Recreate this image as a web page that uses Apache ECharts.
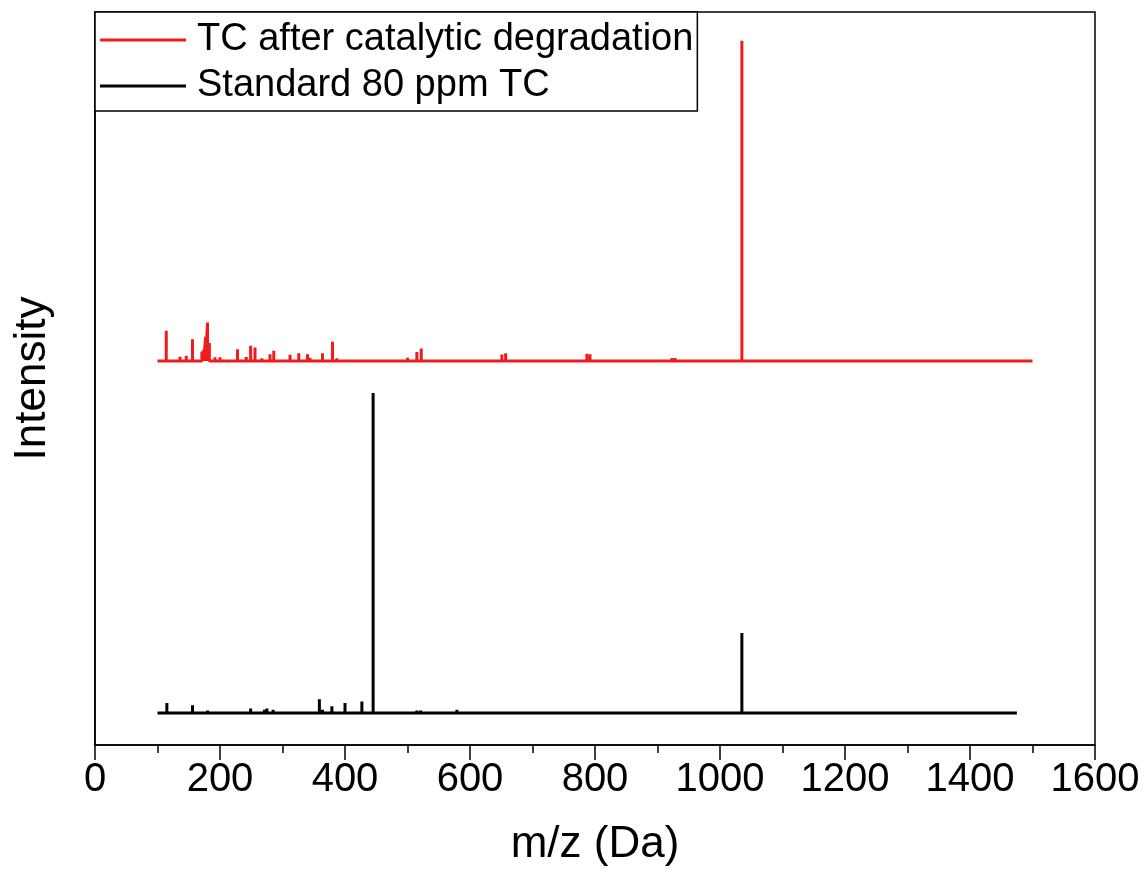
<!DOCTYPE html>
<html>
<head>
<meta charset="utf-8">
<script src="https://cdn.jsdelivr.net/npm/echarts@6/dist/echarts.min.js"></script>
<style>html,body{margin:0;padding:0;background:#fff}#c{width:1144px;height:870px}</style>
</head>
<body>
<div id="c"></div>
<script>
// Data (relative intensity, % of each spectrum's base peak)
const seriesNames = ['TC after catalytic degradation', 'Standard 80 ppm TC'];
const redRange = [100, 1500];
const redMz  = [114,136,146,156,171,174,177,180,183,192,200,228,242,249,256,267,280,286,296,312,326,340,344,364,380,387,500,515,522,651,657,787,792,923,928,957,1035,1059,1064,1197,1333];
const redInt = [9.4,1.3,1.6,6.8,2.9,3.4,7.5,12,5.6,1.1,1.1,3.6,1.2,4.7,4.2,0.8,2.1,3.2,0.5,1.9,2.4,2.1,1.0,2.4,6.0,0.8,1.0,2.8,3.9,2.0,2.4,2.2,2.1,0.9,0.9,0.4,100,0.6,0.6,0.4,0.3];
const blackRange = [100, 1475];
const blackMz  = [115,135,156,180,189,249,256,271,275,285,359,364,379,400,427,445,464,501,515,521,579,652,789,912,1035,1372];
const blackInt = [3.1,0.5,2.4,0.8,0.4,1.4,0.5,1.0,1.4,1.0,4.3,1.0,2.1,3.1,3.6,100,0.4,0.6,0.8,0.8,1.0,0.5,0.5,0.3,25,0.2];
const xTicks = [0,200,400,600,800,1000,1200,1400,1600];

// vertical stacking offsets (plot layout)
const RED_OFFSET = 120, BLACK_OFFSET = 10, Y_MAX = 229;

function stick(range, mz, inten, off) {
  const d = [[range[0], off]];
  for (let i = 0; i < mz.length; i++) {
    d.push([mz[i], off], [mz[i], off + inten[i]], [mz[i], off]);
  }
  d.push([range[1], off]);
  return d;
}

const chart = echarts.init(document.getElementById('c'), null, {renderer: 'canvas'});
const FONT = '"Liberation Sans", Arial, sans-serif';
chart.setOption({
  animation: false,
  backgroundColor: '#fff',
  grid: {left: 95, right: 49, top: 12, bottom: 125, show: true, borderColor: '#000', borderWidth: 1.5,
         containLabel: false, outerBoundsMode: 'none'},
  legend: {
    orient: 'vertical', left: 95, top: 12,
    icon: 'rect', itemWidth: 86, itemHeight: 3, itemGap: 8,
    padding: [9, 4, 6, 5],
    borderColor: '#000', borderWidth: 1.5, backgroundColor: '#fff',
    textStyle: {fontFamily: FONT, fontSize: 38, color: '#000', padding: [0, 0, 0, 6]},
    data: seriesNames
  },
  xAxis: {
    type: 'value', min: xTicks[0], max: xTicks[xTicks.length - 1], interval: 200,
    name: 'm/z (Da)', nameLocation: 'middle', nameGap: 78,
    nameTextStyle: {fontFamily: FONT, fontSize: 44, color: '#000'},
    axisLine: {show: true, lineStyle: {color: '#000', width: 1.5}},
    axisTick: {show: true, inside: false, length: 15, lineStyle: {color: '#000', width: 1.5}},
    minorTick: {show: true, splitNumber: 2, length: 8, lineStyle: {color: '#000', width: 1.5}},
    axisLabel: {fontFamily: FONT, fontSize: 40, color: '#000', margin: 15,
                formatter: v => String(v)},
    splitLine: {show: false}
  },
  yAxis: {
    type: 'value', min: 0, max: Y_MAX,
    name: 'Intensity', nameLocation: 'middle', nameGap: 40,
    nameTextStyle: {fontFamily: FONT, fontSize: 44, color: '#000'},
    axisLine: {show: true, lineStyle: {color: '#000', width: 1.5}},
    axisTick: {show: false}, axisLabel: {show: false}, splitLine: {show: false}
  },
  series: [
    {name: seriesNames[0], type: 'line', data: stick(redRange, redMz, redInt, RED_OFFSET),
     symbol: 'none', color: '#ee1c1c', lineStyle: {width: 3, color: '#ee1c1c'}},
    {name: seriesNames[1], type: 'line', data: stick(blackRange, blackMz, blackInt, BLACK_OFFSET),
     symbol: 'none', color: '#000', lineStyle: {width: 3, color: '#000'}}
  ]
});
</script>
</body>
</html>
